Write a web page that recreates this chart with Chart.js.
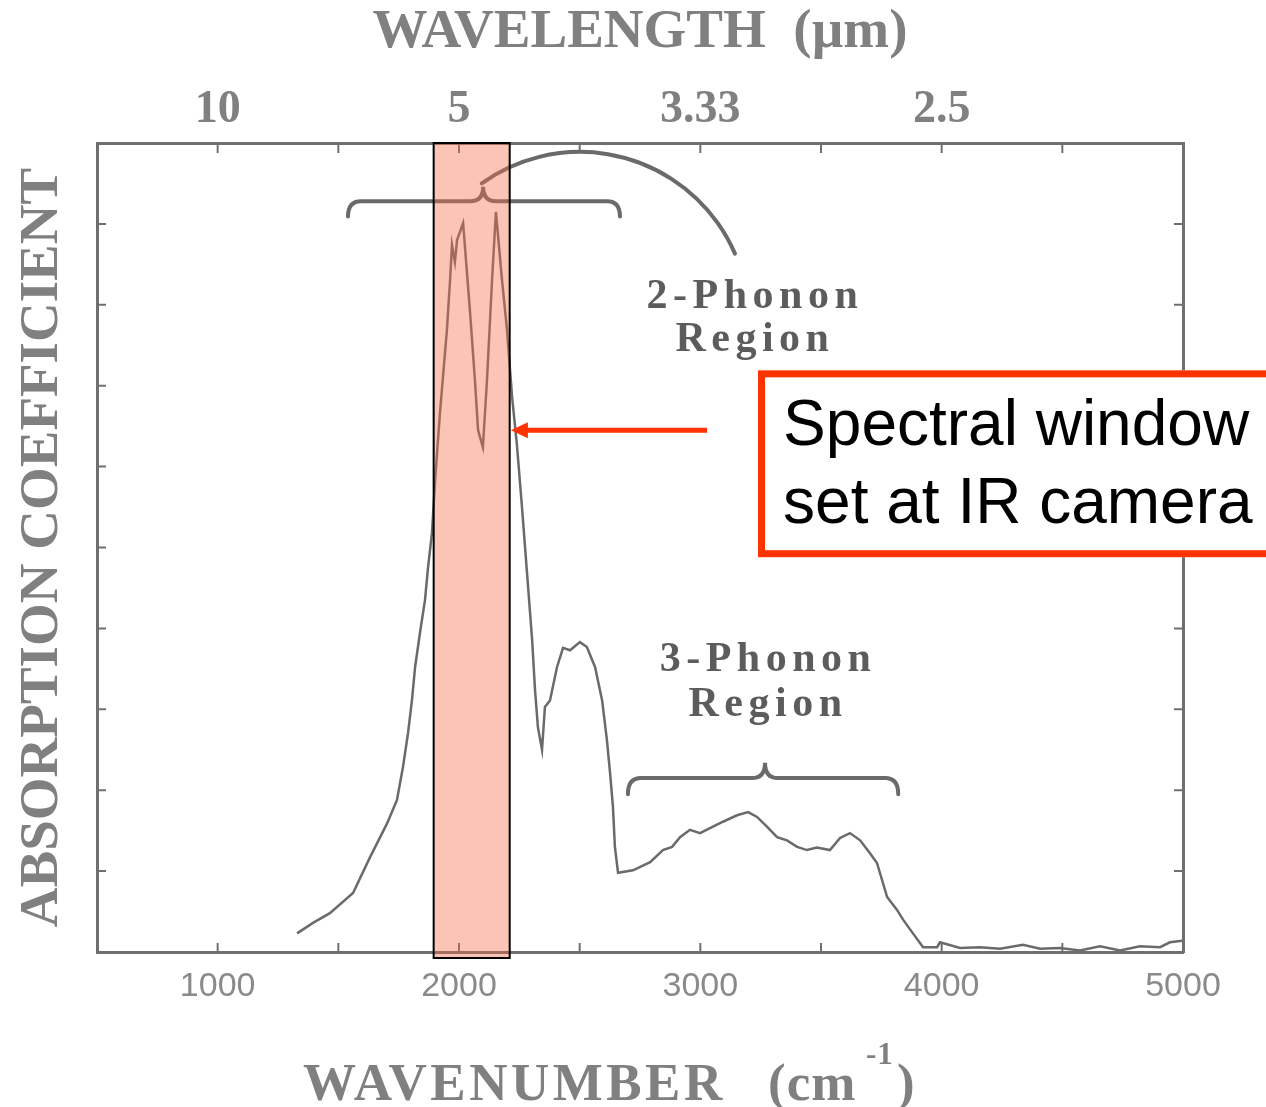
<!DOCTYPE html>
<html>
<head>
<meta charset="utf-8">
<script src="https://cdn.jsdelivr.net/npm/chart.js@4/dist/chart.umd.min.js"></script>
<style>
html,body{margin:0;padding:0;background:#ffffff;}
canvas{display:block;}
</style>
</head>
<body>
<canvas id="c" width="1266" height="1107"></canvas>
<script>
// ---- data ----
const wavenumber = [1329,1395,1465,1561,1631,1702,1743,1768,1789,1805,
  1818,1838,1859,1872,1888,1901,1921,1950,1963,1971,
  1983,1992,2017,2046,2066,2079,2099,2116,2137,2153,
  2178,2199,2220,2240,2261,2282,2303,2315,2327,2344,
  2356,2377,2406,2431,2460,2501,2530,2564,2593,2613,
  2626,2638,2646,2659,2721,2792,2845,2883,2916,2957,
  2999,3040,3094,3152,3198,3235,3276,3318,3359,3401,
  3442,3483,3537,3579,3620,3662,3703,3732,3753,3774,
  3815,3840,3881,3923,3981,3993,4076,4159,4242,4337,
  4408,4490,4573,4656,4739,4822,4905,4946,4996];
const absorption = [0.23,0.36,0.48,0.73,1.17,1.59,1.88,2.29,2.71,3.11,
  3.52,3.94,4.35,4.76,5.18,5.83,6.66,7.69,8.31,8.74,
  8.53,8.80,9.01,7.90,7.07,6.45,6.24,7.07,8.31,9.15,
  8.31,7.69,6.86,6.27,5.50,4.68,3.86,3.24,2.78,2.50,
  3.03,3.11,3.52,3.76,3.73,3.83,3.77,3.52,3.11,2.62,
  2.21,1.79,1.30,0.98,1.01,1.11,1.26,1.30,1.42,1.51,
  1.47,1.53,1.61,1.69,1.73,1.67,1.55,1.42,1.38,1.30,
  1.26,1.29,1.26,1.41,1.47,1.38,1.22,1.10,0.89,0.68,
  0.52,0.40,0.23,0.06,0.06,0.12,0.05,0.06,0.04,0.09,
  0.04,0.05,0.02,0.07,0.02,0.07,0.06,0.12,0.14];

const bottomTickValues = [1000, 2000, 3000, 4000, 5000];
const topTickValues = [1000, 2000, 3000, 4000];
const topTickLabels = ['10', '5', '3.33', '2.5'];

// annotation anchors in data units (wavenumber, absorption)
const spectralWindow = [1895, 2210];
const twoPhononBrace = {left: 1540, right: 2667, cusp: 2100, level: 9.28, end: 9.09, tip: 9.46};
const threePhononBrace = {left: 2700, right: 3820, cusp: 3268, level: 2.15, end: 1.95, tip: 2.34};
const twoPhononArc = {cx: 2501, cy: 7.80, r: 2.09, a0: -2.19, a1: -0.41};
const twoPhononLabel = {x: 3214, y1: 8.10, y2: 7.56};
const threePhononLabel = {x: 3268, y1: 3.61, y2: 3.05};
const arrowSpec = {from: 3028, to: 2215, y: 6.45};
const calloutBox = {left: 3239, top: 7.19, bottom: 4.88, textX: 3343, line1: 6.27, line2: 5.30};
const calloutLines = ['Spectral window', 'set at IR camera'];

const frameColor = '#6f6f6f';
const inkColor = '#6a6a6a';
const titleColor = '#808080';
const serif = '"Liberation Serif", "DejaVu Serif", serif';
const sans = '"Liberation Sans", Arial, sans-serif';

const overlay = {
  id: 'overlay',
  beforeDatasetsDraw(chart) {
    const ctx = chart.ctx, a = chart.chartArea;
    const {x, x2, y, y2} = chart.scales;
    ctx.save();
    ctx.strokeStyle = frameColor;
    ctx.lineWidth = 2;
    ctx.beginPath();
    x.ticks.forEach(t => { const p = x.getPixelForValue(t.value); ctx.moveTo(p, a.bottom); ctx.lineTo(p, a.bottom - 9); });
    x2.ticks.forEach(t => { const p = x2.getPixelForValue(t.value); ctx.moveTo(p, a.top); ctx.lineTo(p, a.top + 10); });
    y.ticks.forEach(t => { const p = y.getPixelForValue(t.value); ctx.moveTo(a.left, p); ctx.lineTo(a.left + 9, p); });
    y2.ticks.forEach(t => { const p = y2.getPixelForValue(t.value); ctx.moveTo(a.right, p); ctx.lineTo(a.right - 9, p); });
    ctx.stroke();
    ctx.restore();
  },
  afterDatasetsDraw(chart) {
    const ctx = chart.ctx, a = chart.chartArea;
    const xs = chart.scales.x, ys = chart.scales.y;
    const px = v => xs.getPixelForValue(v);
    const py = v => ys.getPixelForValue(v);
    ctx.save();

    // braces
    function brace(b) {
      const L = px(b.left), R = px(b.right), C = px(b.cusp);
      const yl = py(b.level), ye = py(b.end), yt = py(b.tip);
      ctx.beginPath();
      ctx.moveTo(L, ye);
      ctx.quadraticCurveTo(L, yl, L + 13, yl);
      ctx.lineTo(C - 13, yl);
      ctx.quadraticCurveTo(C, yl, C, yt);
      ctx.quadraticCurveTo(C, yl, C + 13, yl);
      ctx.lineTo(R - 13, yl);
      ctx.quadraticCurveTo(R, yl, R, ye);
      ctx.stroke();
    }
    ctx.strokeStyle = inkColor;
    ctx.lineWidth = 4;
    ctx.lineCap = 'round';
    brace(twoPhononBrace);
    brace(threePhononBrace);
    // arc
    const rPix = py(0) - py(twoPhononArc.r);
    ctx.beginPath();
    ctx.arc(px(twoPhononArc.cx), py(twoPhononArc.cy), rPix, twoPhononArc.a0, twoPhononArc.a1, false);
    ctx.stroke();

    // region labels
    ctx.fillStyle = '#5c5c5c';
    ctx.font = 'bold 42px ' + serif;
    ctx.textAlign = 'center';
    ctx.textBaseline = 'middle';
    try { ctx.letterSpacing = '5.5px'; } catch (e) {}
    ctx.fillText('2-Phonon', px(twoPhononLabel.x) + 3, py(twoPhononLabel.y1));
    ctx.fillText('Region', px(twoPhononLabel.x) + 3, py(twoPhononLabel.y2));
    ctx.fillText('3-Phonon', px(threePhononLabel.x) + 3, py(threePhononLabel.y1));
    ctx.fillText('Region', px(threePhononLabel.x) + 3, py(threePhononLabel.y2));
    try { ctx.letterSpacing = '0px'; } catch (e) {}

    // spectral window
    const wl = px(spectralWindow[0]), wr = px(spectralWindow[1]);
    const wt = a.top, wb = a.bottom + 6;
    ctx.fillStyle = 'rgba(242,110,72,0.40)';
    ctx.fillRect(wl, wt, wr - wl, wb - wt);
    ctx.strokeStyle = '#000000';
    ctx.lineWidth = 2;
    ctx.strokeRect(wl, wt, wr - wl, wb - wt);

    // arrow
    const ay = py(arrowSpec.y), ax0 = px(arrowSpec.from), ax1 = px(arrowSpec.to);
    ctx.strokeStyle = '#ff3300';
    ctx.fillStyle = '#ff3300';
    ctx.lineWidth = 5;
    ctx.lineCap = 'butt';
    ctx.beginPath();
    ctx.moveTo(ax0, ay);
    ctx.lineTo(ax1 + 14, ay);
    ctx.stroke();
    ctx.beginPath();
    ctx.moveTo(ax1, ay);
    ctx.lineTo(ax1 + 17, ay - 8);
    ctx.lineTo(ax1 + 17, ay + 8);
    ctx.closePath();
    ctx.fill();

    // callout box
    const bl = px(calloutBox.left), bt = py(calloutBox.top), bb = py(calloutBox.bottom);
    ctx.fillStyle = '#ffffff';
    ctx.fillRect(bl, bt, chart.width - bl + 20, bb - bt);
    ctx.strokeStyle = '#ff3300';
    ctx.lineWidth = 7;
    ctx.strokeRect(bl + 3.5, bt + 3.5, chart.width - bl + 20, bb - bt - 7);
    ctx.fillStyle = '#000000';
    ctx.font = '64px ' + sans;
    ctx.textAlign = 'left';
    ctx.textBaseline = 'alphabetic';
    ctx.fillText(calloutLines[0], px(calloutBox.textX), py(calloutBox.line1));
    ctx.fillText(calloutLines[1], px(calloutBox.textX), py(calloutBox.line2));

    // bottom axis title with superscript
    ctx.fillStyle = titleColor;
    ctx.textAlign = 'left';
    ctx.textBaseline = 'alphabetic';
    ctx.font = 'bold 53px ' + serif;
    try { ctx.letterSpacing = '3.5px'; } catch (e) {}
    const tb = chart.height - 7;
    ctx.fillText('WAVENUMBER', 303, tb);
    try { ctx.letterSpacing = '1px'; } catch (e) {}
    ctx.fillText('(cm', 768, tb);
    ctx.fillText(')', 897, tb);
    ctx.font = 'bold 31px ' + serif;
    ctx.fillText('-1', 866, tb - 36);
    try { ctx.letterSpacing = '0px'; } catch (e) {}
    ctx.restore();
  }
};

const points = wavenumber.map((w, i) => ({x: w, y: absorption[i]}));

new Chart(document.getElementById('c'), {
  type: 'scatter',
  data: {
    datasets: [{
      data: points,
      showLine: true,
      borderColor: '#6a6a6a',
      borderWidth: 2.5,
      pointRadius: 0,
      tension: 0,
      fill: false
    }]
  },
  options: {
    responsive: false,
    animation: false,
    devicePixelRatio: 1,
    layout: {padding: 0},
    plugins: {legend: {display: false}, tooltip: {enabled: false}},
    scales: {
      x: {
        type: 'linear', position: 'bottom', min: 500, max: 5000,
        grid: {display: false, drawTicks: false},
        border: {display: true, color: frameColor, width: 3},
        ticks: {
          stepSize: 500, autoSkip: false, maxRotation: 0, padding: 14,
          color: '#8a8a8a', font: {family: sans, size: 34},
          callback: v => bottomTickValues.includes(v) ? String(v) : ''
        },
        afterFit: s => { s.height = 155; }
      },
      x2: {
        type: 'linear', position: 'top', min: 500, max: 5000,
        grid: {display: false, drawTicks: false},
        border: {display: true, color: frameColor, width: 3},
        ticks: {
          stepSize: 500, autoSkip: false, maxRotation: 0, padding: 5,
          color: titleColor, font: {family: serif, size: 46, weight: 'bold'},
          callback: v => { const i = topTickValues.indexOf(v); return i >= 0 ? topTickLabels[i] : ''; }
        },
        title: {
          display: true, text: 'WAVELENGTH  (µm)', color: titleColor,
          font: {family: serif, size: 55, weight: 'bold', lineHeight: 1.2},
          padding: {top: 0, bottom: 0}
        },
        afterFit: s => { s.height = 143; }
      },
      y: {
        type: 'linear', position: 'left', min: 0, max: 10,
        grid: {display: false, drawTicks: false},
        border: {display: true, color: frameColor, width: 3},
        ticks: {stepSize: 1, display: false},
        title: {
          display: true, text: 'ABSORPTION COEFFICIENT', color: titleColor,
          font: {family: serif, size: 55, weight: 'bold', lineHeight: 1},
          padding: {top: 15, bottom: 0}
        },
        afterFit: s => { s.width = 97; }
      },
      y2: {
        type: 'linear', position: 'right', min: 0, max: 10,
        grid: {display: false, drawTicks: false},
        border: {display: true, color: frameColor, width: 3},
        ticks: {stepSize: 1, display: false},
        afterFit: s => { s.width = 83; }
      }
    }
  },
  plugins: [overlay]
});
</script>
</body>
</html>
